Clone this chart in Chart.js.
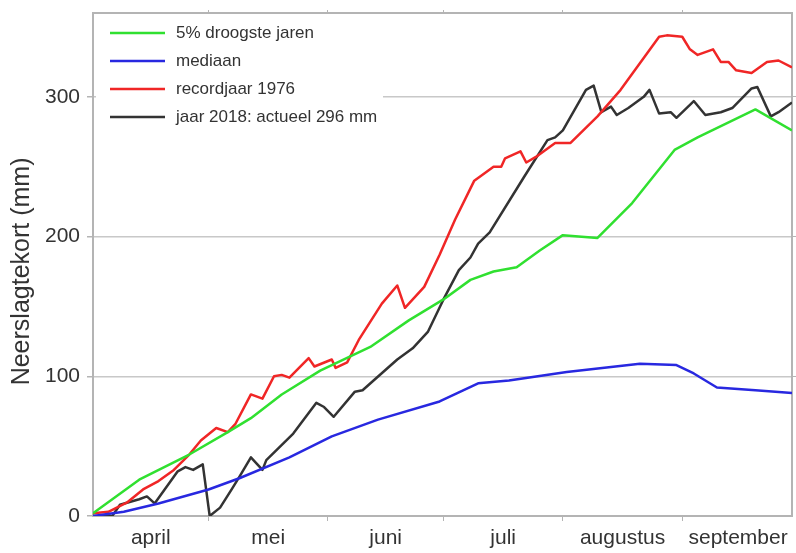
<!DOCTYPE html>
<html>
<head>
<meta charset="utf-8">
<script src="https://cdn.jsdelivr.net/npm/chart.js@4/dist/chart.umd.min.js"></script>
<style>
  html, body { margin: 0; padding: 0; background: #fff; }
  #wrap { width: 796px; height: 553px; }
</style>
</head>
<body>
<div id="wrap"><canvas id="chart" width="796" height="553"></canvas></div>
<script>
// x = days since 1 april
const monthLabels = ["april", "mei", "juni", "juli", "augustus", "september"];
const monthMids = [15, 45.5, 76, 106.5, 137.5, 167.5];
const monthEdges = [30, 61, 91, 122, 153];
const yTicks = [0, 100, 200, 300];

const droogDays = [0, 12, 25, 35, 41, 49, 59, 72, 82, 91, 98, 104, 110, 116, 122, 131, 140, 151, 157, 172, 181.5];
const droogValues = [2, 26, 44, 60, 70, 87, 104, 121, 140, 155, 169, 175, 178, 190, 201, 199, 224, 262, 271, 291, 276];

const medDays = [0, 8, 17, 30, 38, 51, 62, 74, 90, 100, 108, 123, 142, 151.5, 156, 162, 172, 181.5];
const medValues = [0, 3, 9, 19, 27, 42, 57, 69, 82, 95, 97, 103, 109, 108, 102, 92, 90, 88];

const recDays = [0, 4, 9, 13, 17, 21, 25, 28, 32, 35, 37, 41, 44, 47, 49, 51, 56, 57.5, 62, 63, 66, 69, 75, 79, 81, 86, 90, 94, 99, 104, 106, 107, 111, 112.5, 115, 120, 124, 131, 137, 147, 149, 153, 155, 157, 161, 163, 165, 167, 171, 175, 178, 181.5];
const recValues = [2, 3, 10, 19, 25, 33, 44, 54, 63, 60, 66, 87, 84, 100, 101, 99, 113, 107, 112, 106, 110, 126, 152, 165, 149, 164, 187, 212, 240, 250, 250, 256, 261, 253, 257, 267, 267, 286, 305, 343, 344, 343, 334, 330, 334, 325, 325, 319, 317, 325, 326, 321];

const days2018 = [0, 5, 7, 12, 14, 16, 22, 24, 26, 28.5, 30.3, 33, 36, 38, 41, 44, 45, 52, 58, 60, 62.5, 68, 70, 79, 83, 87, 91, 95, 98, 100, 103, 112, 118, 120, 122, 128, 130, 132, 134.5, 136, 139, 143, 144.5, 147, 150, 151.5, 156, 159, 163, 166, 171, 172.5, 176, 178, 181.5];
const values2018 = [0, 0, 8, 12, 14, 9, 32, 35, 33, 37, 0, 6, 19, 28, 42, 33, 40, 59, 81, 78, 71, 89, 90, 112, 120, 132, 155, 176, 185, 195, 203, 243, 269, 271, 276, 305, 308, 289, 293, 287, 292, 300, 305, 288, 289, 285, 297, 287, 289, 292, 306, 307, 286, 289, 296];

const pts = (xs, ys) => xs.map((x, i) => ({ x, y: ys[i] }));

Chart.defaults.font.family = '"Liberation Sans", Arial, sans-serif';
Chart.defaults.color = "#333";

const axisGrey = "#b4b4b4";

const legendBox = {
  id: "legendBox",
  beforeDatasetsDraw(chart) {
    const ctx = chart.ctx;
    ctx.save();
    ctx.fillStyle = "#fff";
    ctx.fillRect(96, 20, 287, 110);
    ctx.font = '17px "Liberation Sans", Arial, sans-serif';
    ctx.textBaseline = "middle";
    chart.data.datasets.forEach((ds, i) => {
      const y = 33 + i * 28;
      ctx.strokeStyle = ds.borderColor;
      ctx.lineWidth = 2.5;
      ctx.beginPath();
      ctx.moveTo(110, y);
      ctx.lineTo(165, y);
      ctx.stroke();
      ctx.fillStyle = "#333";
      ctx.fillText(ds.label, 176, y);
    });
    ctx.restore();
  }
};

const line = (label, data, color) => ({
  label, data,
  borderColor: color,
  borderWidth: 2.5,
  pointRadius: 0,
  tension: 0,
  borderJoinStyle: "round"
});

new Chart(document.getElementById("chart"), {
  type: "line",
  data: {
    datasets: [
      line("5% droogste jaren", pts(droogDays, droogValues), "#30e030"),
      line("mediaan", pts(medDays, medValues), "#2828e0"),
      line("recordjaar 1976", pts(recDays, recValues), "#f02626"),
      line("jaar 2018: actueel 296 mm", pts(days2018, values2018), "#333333")
    ]
  },
  options: {
    responsive: false,
    devicePixelRatio: 1,
    animation: false,
    layout: { padding: 0 },
    plugins: { legend: { display: false }, tooltip: { enabled: false } },
    scales: {
      x: {
        type: "linear",
        position: "bottom",
        min: 0,
        max: 181.5,
        afterBuildTicks: s => { s.ticks = [...monthEdges, ...monthMids].sort((a, b) => a - b).map(v => ({ value: v })); },
        afterFit: s => { s.height = 37; s.paddingLeft = 0; s.paddingRight = 0; },
        ticks: {
          autoSkip: false,
          maxRotation: 0,
          padding: 5,
          font: { size: 21 },
          color: "#333",
          callback: v => { const i = monthMids.indexOf(v); return i >= 0 ? monthLabels[i] : ""; }
        },
        grid: {
          drawOnChartArea: false,
          tickLength: 5,
          tickColor: c => monthEdges.includes(c.tick && c.tick.value) ? axisGrey : "rgba(0,0,0,0)"
        },
        border: { color: axisGrey, width: 2 }
      },
      xTop: {
        type: "linear",
        position: "top",
        min: 0,
        max: 181.5,
        afterBuildTicks: s => { s.ticks = monthEdges.map(v => ({ value: v })); },
        afterFit: s => { s.height = 13; },
        ticks: { display: false },
        grid: { drawOnChartArea: false, tickLength: 3, tickColor: axisGrey },
        border: { color: axisGrey, width: 2 }
      },
      y: {
        position: "left",
        min: 0,
        max: 360,
        afterBuildTicks: s => { s.ticks = yTicks.map(v => ({ value: v })); },
        afterFit: s => { s.width = 93; s.paddingTop = 0; s.paddingBottom = 0; },
        ticks: { padding: 7, font: { size: 21 }, color: "#333" },
        grid: { color: "#c8c8c8", lineWidth: 1.5, tickLength: 6, tickColor: axisGrey },
        border: { color: axisGrey, width: 2 },
        title: {
          display: true,
          text: "Neerslagtekort (mm)  ",
          font: { size: 25 },
          color: "#333",
          padding: { top: 7, bottom: 0 }
        }
      },
      yRight: {
        position: "right",
        min: 0,
        max: 360,
        afterBuildTicks: s => { s.ticks = [100, 200, 300].map(v => ({ value: v })); },
        afterFit: s => { s.width = 4; },
        ticks: { display: false },
        grid: { drawOnChartArea: false, tickLength: 4, tickColor: axisGrey },
        border: { color: axisGrey, width: 2 }
      }
    }
  },
  plugins: [legendBox]
});
</script>
</body>
</html>
